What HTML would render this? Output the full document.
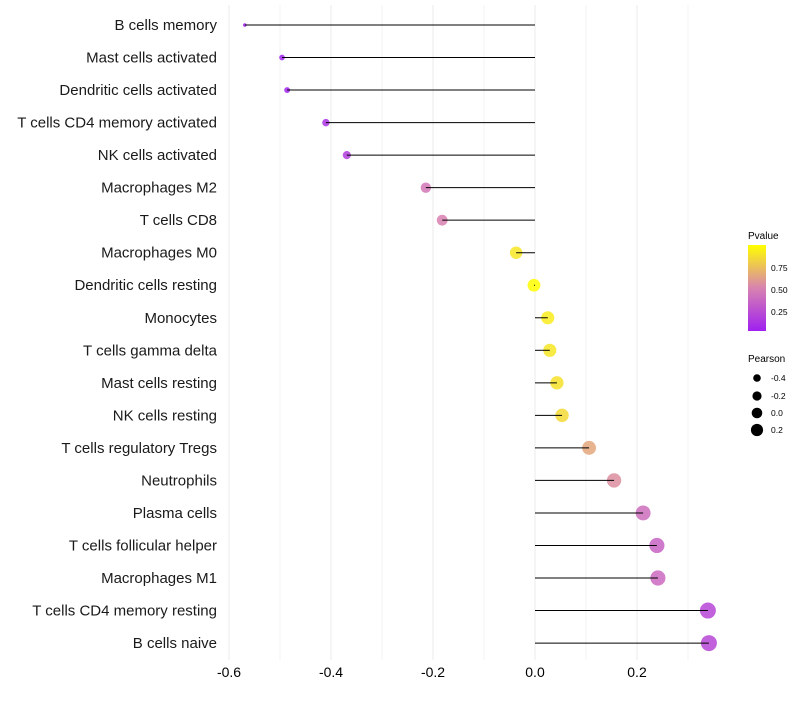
<!DOCTYPE html>
<html><head><meta charset="utf-8"><style>
body{margin:0;background:#fff;}
svg text{font-family:"Liberation Sans",sans-serif;}
</style></head><body>
<svg id="chart" width="800" height="700" xmlns="http://www.w3.org/2000/svg">
<defs><linearGradient id="pg" x1="0" y1="1" x2="0" y2="0">
<stop offset="0" stop-color="#a020f0"/><stop offset="0.5" stop-color="#d883b0"/><stop offset="1" stop-color="#ffff00"/>
</linearGradient></defs>
<g id="grid"></g><g id="marks"></g><g id="ylabels"></g><g id="xlabels"></g>
<g>
<text x="748" y="239" font-size="10">Pvalue</text>
<rect x="748" y="245" width="18" height="86" fill="url(#pg)"/>
<text x="771" y="271" font-size="8.5">0.75</text>
<text x="771" y="293" font-size="8.5">0.50</text>
<text x="771" y="315" font-size="8.5">0.25</text>
</g>
<g>
<text x="748" y="362" font-size="10">Pearson</text>
<circle cx="757" cy="378" r="3.8"/><text x="771" y="381" font-size="8.5">-0.4</text>
<circle cx="757" cy="396" r="4.6"/><text x="771" y="399" font-size="8.5">-0.2</text>
<circle cx="757" cy="413" r="5.3"/><text x="771" y="416" font-size="8.5">0.0</text>
<circle cx="757" cy="430" r="6.1"/><text x="771" y="433" font-size="8.5">0.2</text>
</g>
</svg>
<script>
const categories=["B cells memory","Mast cells activated","Dendritic cells activated","T cells CD4 memory activated","NK cells activated","Macrophages M2","T cells CD8","Macrophages M0","Dendritic cells resting","Monocytes","T cells gamma delta","Mast cells resting","NK cells resting","T cells regulatory  Tregs","Neutrophils","Plasma cells","T cells follicular helper","Macrophages M1","T cells CD4 memory resting","B cells naive"];
const pearson=[-0.569,-0.496,-0.486,-0.41,-0.369,-0.214,-0.182,-0.037,-0.002,0.025,0.029,0.043,0.053,0.106,0.155,0.212,0.239,0.241,0.339,0.341];
const pvalue=[0.0,0.01,0.02,0.1,0.15,0.45,0.5,0.9,1.0,0.92,0.9,0.88,0.85,0.65,0.55,0.4,0.35,0.38,0.2,0.2];
const xTicks=[-0.6,-0.4,-0.2,0.0,0.2];
const xTickLabels=["-0.6","-0.4","-0.2","0.0","0.2"];
const NS="http://www.w3.org/2000/svg";
const X=v=>535+v*510;
const Y=i=>25+i*32.53;
const R=v=>{const t=(v+0.57)/0.91;return Math.sqrt(3.2+t*(64-3.2));};
function lerp(a,b,t){return a.map((c,i)=>Math.round(c+(b[i]-c)*t));}
function col(p){const s=[[160,32,240],[216,128,176],[255,255,0]];const c=p<0.5?lerp(s[0],s[1],p/0.5):lerp(s[1],s[2],(p-0.5)/0.5);return`rgb(${c.join(',')})`;}
function mk(t,a,parent){const e=document.createElementNS(NS,t);for(const k in a)e.setAttribute(k,a[k]);parent.appendChild(e);return e;}
const grid=document.getElementById('grid'),marks=document.getElementById('marks'),yl=document.getElementById('ylabels'),xl=document.getElementById('xlabels');
for(let v=-0.6;v<=0.351;v+=0.1){const g=mk('line',{x1:X(v),x2:X(v),y1:5,y2:660,stroke:'#ebebeb','stroke-width':Math.abs(Math.round(v*10))%2===0?1:0.6},grid);

}
xTicks.forEach((v,i)=>{const t=mk('text',{x:X(v),y:677,'font-size':14,'text-anchor':'middle'},xl);t.textContent=xTickLabels[i];

});
categories.forEach((c,i)=>{
const t=mk('text',{x:217,y:Y(i)+5,'font-size':15,'text-anchor':'end',fill:'#1a1a1a'},yl);t.textContent=c;


const p=mk('circle',{cx:X(pearson[i]),cy:Y(i),r:R(pearson[i]),fill:col(pvalue[i]),'fill-opacity':0.85},marks);


const l=mk('line',{x1:X(0),x2:X(pearson[i]),y1:Y(i),y2:Y(i),stroke:'#000','stroke-width':1},marks);


});
</script>
</body></html>
